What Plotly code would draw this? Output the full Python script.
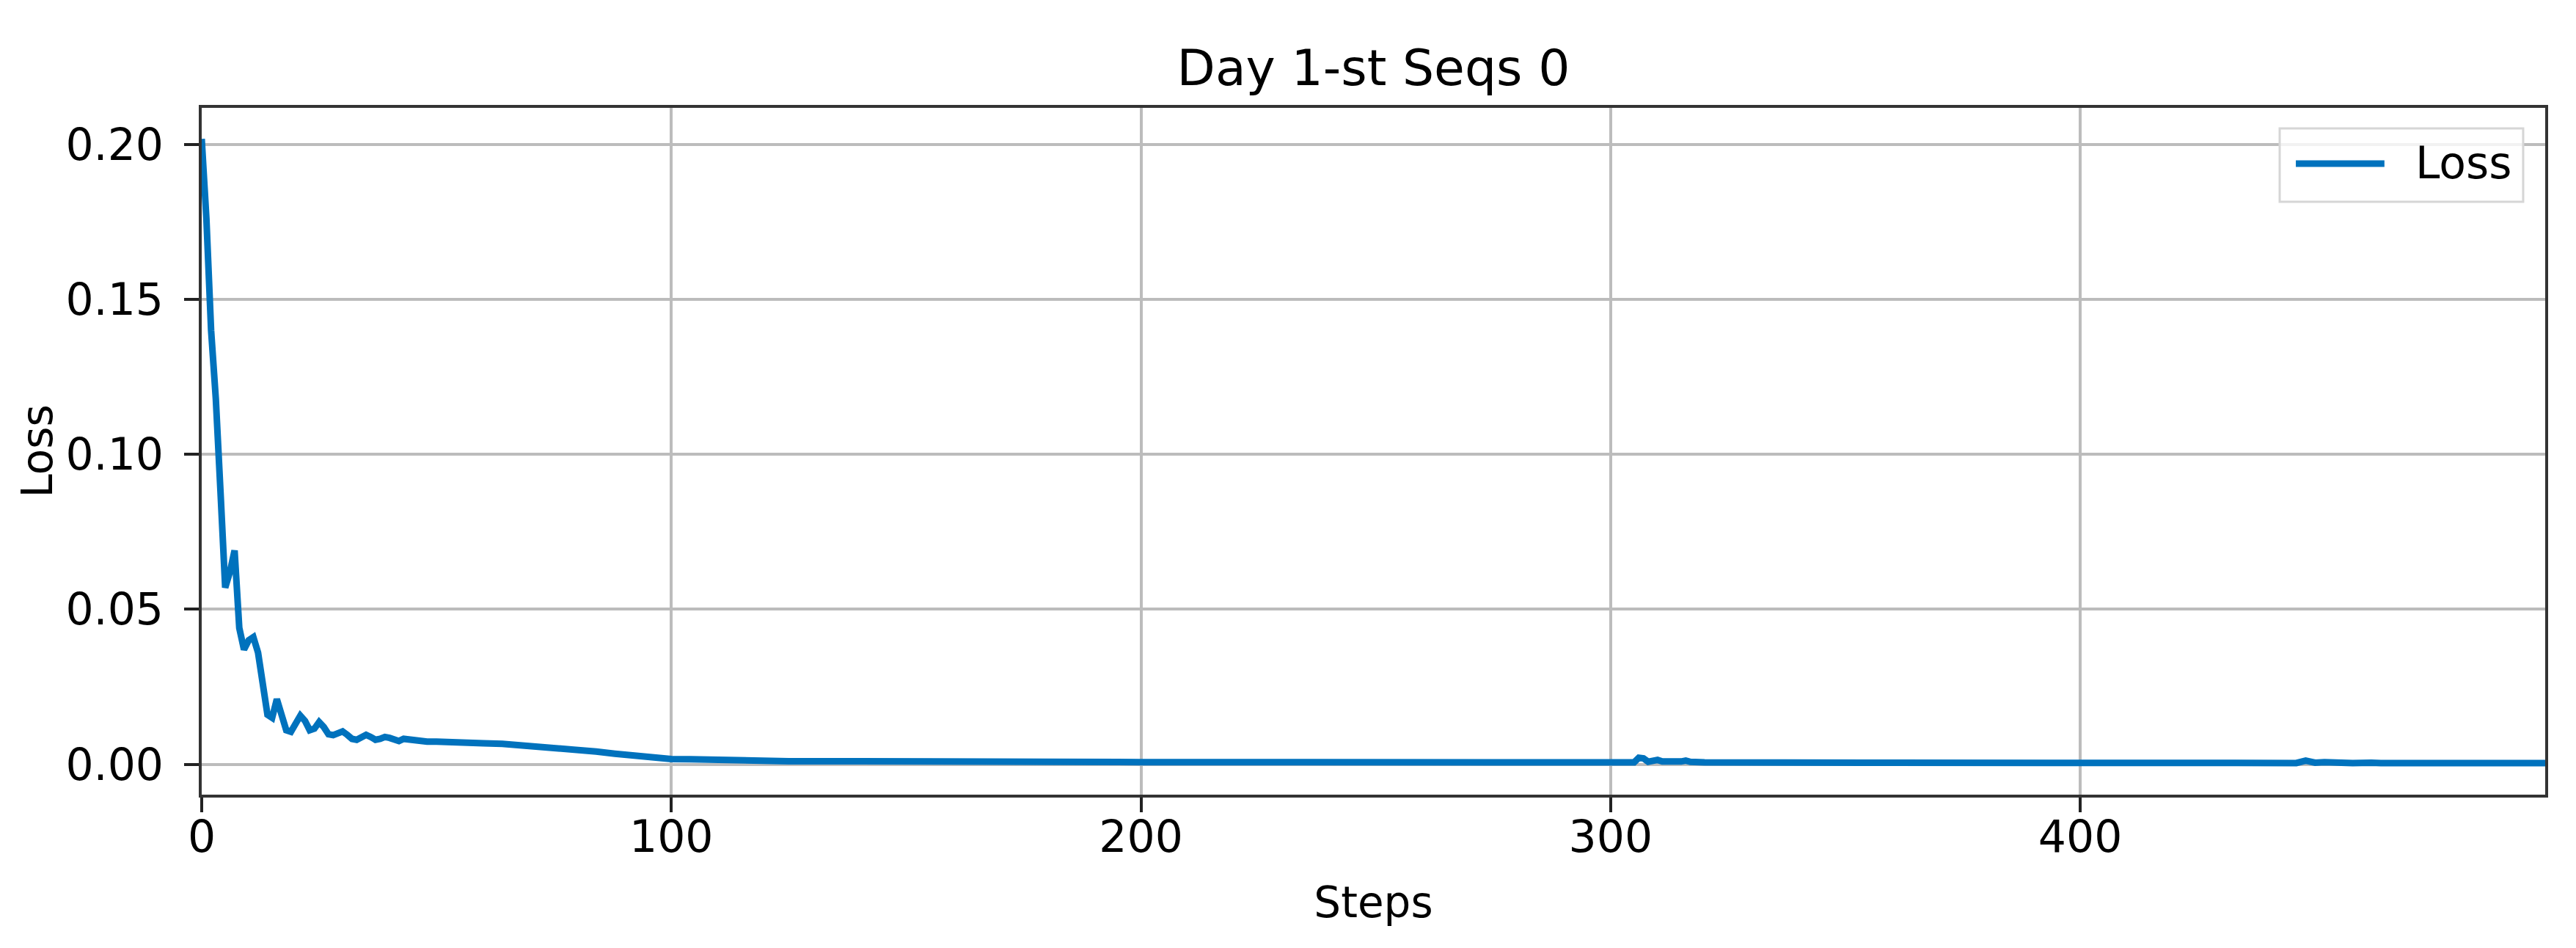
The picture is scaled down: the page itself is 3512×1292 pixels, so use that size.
import plotly.graph_objects as go

# Loss values (step index, loss)
steps = [0, 1, 2, 3, 4, 5, 6, 7, 8, 9, 10, 11, 12, 13, 14, 15, 16, 17, 18, 19,
         20, 21, 22, 23, 24, 25, 26, 27, 28, 29, 30, 31, 32, 33, 34, 35, 36, 37,
         38, 39, 40, 41, 42, 43, 44, 45, 46, 48, 50, 52, 56, 60, 64, 68, 72, 76,
         80, 84, 88, 92, 96, 100, 104, 108, 110, 112, 116, 125, 140, 155, 163,
         165, 167, 169, 171, 173, 175, 177, 180, 200, 236, 238, 240, 270, 305,
         306, 307, 308, 309, 310, 311, 312, 313, 314, 315, 316, 317, 318, 319,
         320, 360, 400, 446, 448, 449, 450, 452, 454, 456, 458, 462, 464, 499]
loss = [0.2018, 0.176, 0.140, 0.118, 0.088, 0.057, 0.062, 0.069, 0.044, 0.037,
        0.040, 0.041, 0.036, 0.026, 0.016, 0.015, 0.021, 0.016, 0.011, 0.0105,
        0.013, 0.0157, 0.014, 0.011, 0.0115, 0.0136, 0.012, 0.0097, 0.0094,
        0.0102, 0.0106, 0.0095, 0.0082, 0.0079, 0.0089, 0.0095, 0.0088, 0.0079,
        0.0082, 0.0088, 0.0085, 0.0078, 0.0075, 0.0082, 0.0080, 0.0074, 0.0074,
        0.0073, 0.0073, 0.0071, 0.0069, 0.0068, 0.0066, 0.0062, 0.0058, 0.0052,
        0.0046, 0.0041, 0.0034, 0.0027, 0.0020, 0.0017, 0.0016, 0.0015, 0.0014,
        0.0010, 0.0010, 0.0010, 0.0010, 0.0010, 0.0009, 0.0013, 0.0009, 0.0012,
        0.0008, 0.0010, 0.0008, 0.0009, 0.0008, 0.0007, 0.0007, 0.0011, 0.0007,
        0.0006, 0.0006, 0.0021, 0.0019, 0.0008, 0.0011, 0.0014, 0.0009, 0.0010,
        0.0013, 0.0009, 0.0009, 0.0012, 0.0008, 0.0009, 0.0007, 0.0006, 0.0005,
        0.0005, 0.0004, 0.0012, 0.0010, 0.0005, 0.0007, 0.0005, 0.0006, 0.0004,
        0.0005, 0.0004, 0.0004]

x_ticks = [0, 100, 200, 300, 400]
y_ticks = [0.00, 0.05, 0.10, 0.15, 0.20]

font = "DejaVu Sans"
blue = "#0072BD"

fig = go.Figure()
fig.add_trace(go.Scatter(x=steps, y=loss, mode="lines", name="Loss",
                         line={"color": blue, "width": 9}, showlegend=False))

# legend drawn by hand so the frame and sample line match matplotlib's look
fig.add_shape(type="rect", xref="paper", yref="paper",
              x0=0.8867, x1=0.9906, y0=0.8632, y1=0.9701,
              line={"color": "#d6d6d6", "width": 3}, fillcolor="rgba(255,255,255,0.8)")
fig.add_shape(type="line", xref="paper", yref="paper",
              x0=0.8936, x1=0.9314, y0=0.9188, y1=0.9188,
              line={"color": blue, "width": 9})
fig.add_annotation(text="Loss", xref="paper", yref="paper", x=0.9440, y=0.9199,
                   xanchor="left", yanchor="middle", showarrow=False,
                   font={"family": font, "size": 60, "color": "black"})

axis_common = dict(showline=True, linecolor="#333333", linewidth=4, mirror=True,
                   showgrid=True, gridcolor="#bcbcbc", gridwidth=4,
                   ticks="outside", ticklen=20, tickwidth=4, tickcolor="#222222",
                   zeroline=False, tickfont={"family": font, "size": 60, "color": "black"})

fig.update_layout(
    width=3512, height=1292,
    margin={"l": 267, "r": 50, "t": 139, "b": 217},
    paper_bgcolor="white", plot_bgcolor="white",
    title={"text": "Day 1-st Seqs 0", "x": 0.5, "xref": "paper", "xanchor": "center",
           "y": 1 - 84 / 1292, "yref": "container", "yanchor": "middle",
           "font": {"family": font, "size": 68, "color": "black"}},
    xaxis=dict(axis_common, range=[0, 499], tickvals=x_ticks, ticklabelstandoff=-18,
               title={"text": "Steps", "standoff": 36,
                      "font": {"family": font, "size": 58, "color": "black"}}),
    yaxis=dict(axis_common, range=[-0.0098, 0.2118], tickvals=y_ticks,
               tickformat=".2f", ticklabelstandoff=16,
               title={"text": "Loss", "standoff": 0,
                      "font": {"family": font, "size": 58, "color": "black"}}),
)

fig.write_html("out.html")
